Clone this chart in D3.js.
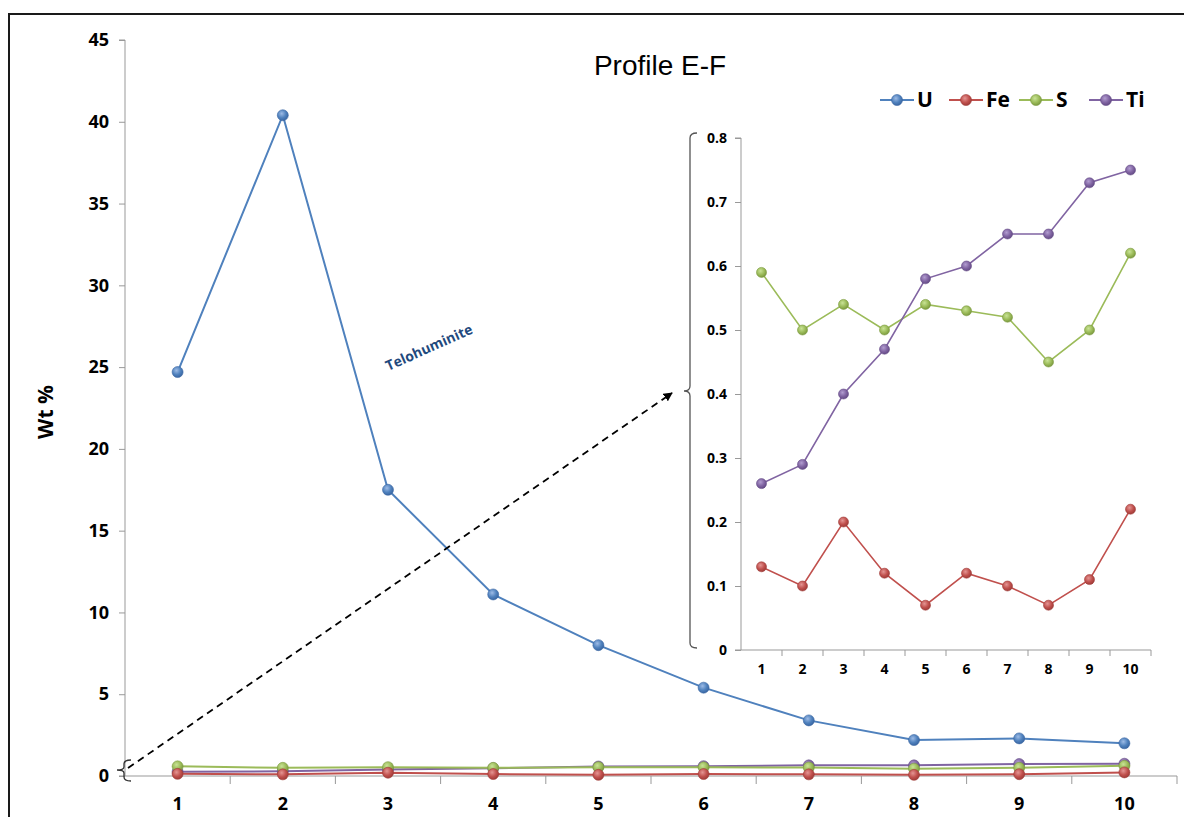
<!DOCTYPE html>
<html><head><meta charset="utf-8">
<script src="https://cdn.jsdelivr.net/npm/d3@7"></script>
<style>body{margin:0;background:#fff}svg{display:block}</style>
</head><body>
<script>
const categories = ["1","2","3","4","5","6","7","8","9","10"];
const U  = [24.7, 40.4, 17.5, 11.1, 8.0, 5.4, 3.4, 2.2, 2.3, 2.0];
const Fe = [0.13, 0.10, 0.20, 0.12, 0.07, 0.12, 0.10, 0.07, 0.11, 0.22];
const S  = [0.59, 0.50, 0.54, 0.50, 0.54, 0.53, 0.52, 0.45, 0.50, 0.62];
const Ti = [0.26, 0.29, 0.40, 0.47, 0.58, 0.60, 0.65, 0.65, 0.73, 0.75];
const mainTicks = [0,5,10,15,20,25,30,35,40,45];
const insetTicks = [0,0.1,0.2,0.3,0.4,0.5,0.6,0.7,0.8];
const seriesNames = ["U","Fe","S","Ti"];
const colors = ["#4F81BD","#C0504D","#9BBB59","#8064A2"];
const light = ["#9dbbe6","#e49593","#c9e396","#b29dd0"];
const dark  = ["#3a67a3","#a03c39","#7c9a40","#654c86"];
const allSeries = [U, Fe, S, Ti];

const W = 1184, H = 817;
const svg = d3.select("body").append("svg").attr("width", W).attr("height", H);
const defs = svg.append("defs");
colors.forEach((c,i)=>{
  const g = defs.append("radialGradient").attr("id","g"+i).attr("cx","40%").attr("cy","35%").attr("r","65%");
  g.append("stop").attr("offset","0%").attr("stop-color",light[i]);
  g.append("stop").attr("offset","60%").attr("stop-color",c);
  g.append("stop").attr("offset","100%").attr("stop-color",dark[i]);
});
defs.append("marker").attr("id","arrow").attr("viewBox","0 0 10 10").attr("refX",9).attr("refY",5)
  .attr("markerWidth",5).attr("markerHeight",5).attr("orient","auto")
  .append("path").attr("d","M0,0L10,5L0,10Z").attr("fill","#000");

// frame
svg.append("rect").attr("x",9).attr("y",14).attr("width",1190).attr("height",820)
  .attr("fill","none").attr("stroke","#1a1a1a").attr("stroke-width",2);

const font = "'Open Sans', 'DejaVu Sans', sans-serif";

// main chart
const x = d3.scaleBand().domain(categories).range([125, 1177]);
const y = d3.scaleLinear().domain([0,45]).range([776, 40]);

const gy = svg.append("g").attr("transform","translate(125,0)")
  .call(d3.axisLeft(y).tickValues(mainTicks).tickSize(6).tickPadding(10).tickFormat(d3.format("d")));
gy.select(".domain").attr("stroke","#999").attr("d","M-6,40H0V776H-6");
gy.selectAll(".tick line").attr("stroke","#999");
gy.selectAll("text").attr("font-family",font).attr("font-weight","bold").attr("font-size",18).attr("fill","#000");

const gx = svg.append("g").attr("transform","translate(0,776)")
  .call(d3.axisBottom(x).tickSize(0).tickPadding(21));
gx.select(".domain").attr("stroke","#999").attr("d","M125,0H1177");
gx.selectAll("text").attr("font-family",font).attr("font-weight","bold").attr("font-size",18).attr("fill","#000");
const bounds = d3.range(categories.length+1).map(i=>125 + i*x.bandwidth());
gx.selectAll(".bt").data(bounds.slice(1)).enter().append("line")
  .attr("x1",d=>d).attr("x2",d=>d).attr("y1",0).attr("y2",8).attr("stroke","#999");

svg.append("text").attr("transform","translate(53,412) rotate(-90)").attr("text-anchor","middle")
  .attr("font-family",font).attr("font-weight","bold").attr("font-size",21).text("Wt %");

const cx = d => x(d) + x.bandwidth()/2;
const line = d3.line().x((d,i)=>cx(categories[i])).y(d=>y(d));
[3,2,1,0].forEach(si=>{
  const data = allSeries[si];
  svg.append("path").attr("d",line(data)).attr("fill","none").attr("stroke",colors[si]).attr("stroke-width",2);
  svg.selectAll(null).data(data).enter().append("circle")
    .attr("cx",(d,i)=>cx(categories[i])).attr("cy",d=>y(d)).attr("r",5.5)
    .attr("fill","url(#g"+si+")").attr("stroke",dark[si]).attr("stroke-width",0.6);
});

// title
svg.append("text").attr("x",660).attr("y",75).attr("text-anchor","middle")
  .attr("font-family","'Liberation Sans', Arial, sans-serif").attr("font-size",28).text("Profile E-F");

// legend
const legX = [880, 949, 1019, 1089], legTX = [917, 986, 1056, 1126];
seriesNames.forEach((n,i)=>{
  svg.append("line").attr("x1",legX[i]).attr("x2",legX[i]+34).attr("y1",100).attr("y2",100)
    .attr("stroke",colors[i]).attr("stroke-width",2);
  svg.append("circle").attr("cx",legX[i]+17).attr("cy",100).attr("r",5.5)
    .attr("fill","url(#g"+i+")").attr("stroke",dark[i]).attr("stroke-width",0.6);
  svg.append("text").attr("x",legTX[i]).attr("y",107).attr("font-family",font)
    .attr("font-weight","bold").attr("font-size",21).text(n);
});

// Telohuminite label
svg.append("text").attr("transform","translate(431,352) rotate(-24)").attr("text-anchor","middle")
  .attr("font-family",font).attr("font-weight","bold").attr("font-size",14).attr("fill","#1F497D")
  .text("Telohuminite");

// inset chart
const xi = d3.scaleBand().domain(categories).range([741, 1151]);
const yi = d3.scaleLinear().domain([0,0.8]).range([650, 138]);
const giy = svg.append("g").attr("transform","translate(741,0)")
  .call(d3.axisLeft(yi).tickValues(insetTicks).tickSize(6).tickPadding(8).tickFormat(d=>d===0?"0":d3.format(".1f")(d)));
giy.select(".domain").attr("stroke","#999").attr("d","M-6,138H0V650H-6");
giy.selectAll(".tick line").attr("stroke","#999");
giy.selectAll("text").attr("font-family",font).attr("font-weight","bold").attr("font-size",14).attr("fill","#000");

const gix = svg.append("g").attr("transform","translate(0,650)")
  .call(d3.axisBottom(xi).tickSize(0).tickPadding(14));
gix.select(".domain").attr("stroke","#999").attr("d","M741,0H1151");
gix.selectAll("text").attr("font-family",font).attr("font-weight","bold").attr("font-size",14).attr("fill","#000");
const ib = d3.range(categories.length+1).map(i=>741 + i*xi.bandwidth());
gix.selectAll(".bt").data(ib.slice(1)).enter().append("line")
  .attr("x1",d=>d).attr("x2",d=>d).attr("y1",0).attr("y2",6).attr("stroke","#999");

const cxi = d => xi(d) + xi.bandwidth()/2;
const linei = d3.line().x((d,i)=>cxi(categories[i])).y(d=>yi(d));
[1,2,3].forEach(si=>{
  const data = allSeries[si];
  svg.append("path").attr("d",linei(data)).attr("fill","none").attr("stroke",colors[si]).attr("stroke-width",1.6);
  svg.selectAll(null).data(data).enter().append("circle")
    .attr("cx",(d,i)=>cxi(categories[i])).attr("cy",d=>yi(d)).attr("r",5)
    .attr("fill","url(#g"+si+")").attr("stroke",dark[si]).attr("stroke-width",0.6);
});

// brackets
svg.append("path").attr("d","M697,133 Q690,133 690,138 V386 Q690,391 684,391 Q690,391 690,396 V643 Q690,648 697,648")
  .attr("fill","none").attr("stroke","#555").attr("stroke-width",1.3);
svg.append("path").attr("d","M131,760 Q124,760 124,764 V767 Q124,770 117,770 Q124,770 124,773 V777 Q124,781 131,781")
  .attr("fill","none").attr("stroke","#333").attr("stroke-width",1.3);

// dashed arrow
svg.append("line").attr("x1",128).attr("y1",768).attr("x2",672).attr("y2",393)
  .attr("stroke","#000").attr("stroke-width",1.8).attr("stroke-dasharray","7,5")
  .attr("marker-end","url(#arrow)");
</script>
</body></html>
